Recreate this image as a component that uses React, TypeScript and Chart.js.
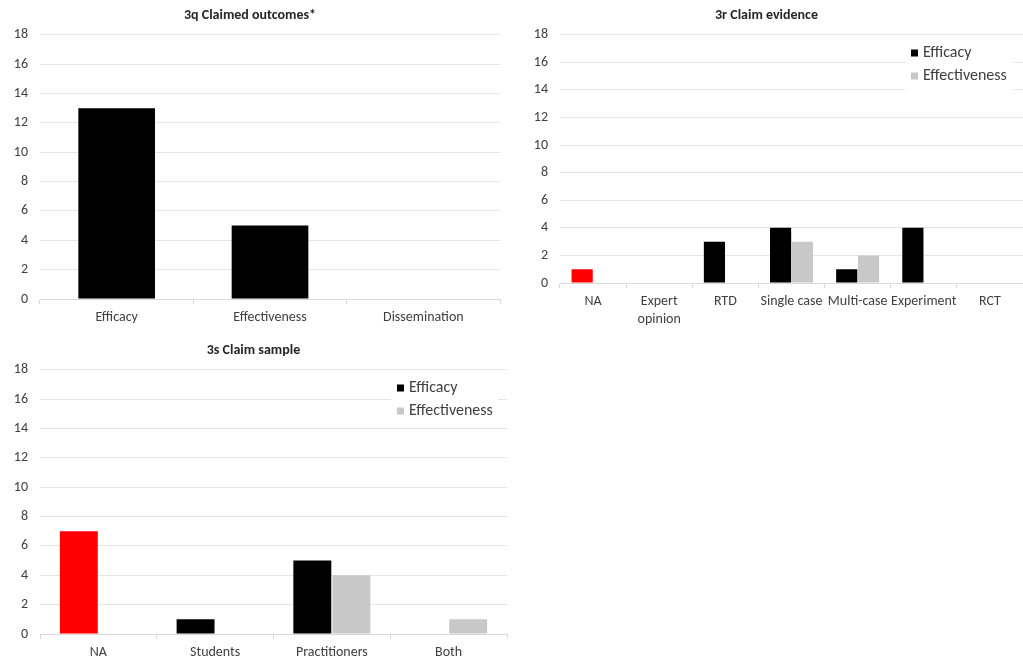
import React, { useEffect, useRef } from "react";
import { Chart, registerables } from "chart.js";

Chart.register(...registerables);

// ---- Data ----
const outcomeCategories = ["Efficacy", "Effectiveness", "Dissemination"];
const outcomeValues = [13, 5, 0];

const evidenceCategories = ["NA", "Expert opinion", "RTD", "Single case", "Multi-case", "Experiment", "RCT"];
const evidenceEfficacy = [1, 0, 3, 4, 1, 4, 0];
const evidenceEffectiveness = [0, 0, 0, 3, 2, 0, 0];

const sampleCategories = ["NA", "Students", "Practitioners", "Both"];
const sampleEfficacy = [7, 1, 5, 0];
const sampleEffectiveness = [0, 0, 4, 1];

const seriesNames = ["Efficacy", "Effectiveness"];
const yTicksMax = 18;
const yTicksStep = 2;

const FONT = "Carlito, Lato, 'Open Sans', sans-serif";
const BLACK = "#000000";
const GRAY = "#c8c8c8";
const RED = "#ff0000";

function splitLabel(s: string): string | string[] {
  return s === "Expert opinion" ? ["Expert", "opinion"] : s;
}

function legendPlugin(cfg: { boxLeft: number; boxRight: number; top: number; bottom: number; markerX: number; textX: number; rows: number[] }) {
  return {
    id: "customLegend",
    afterDraw(chart: any) {
      const ctx = chart.ctx;
      ctx.save();
      ctx.fillStyle = "#ffffff";
      ctx.fillRect(cfg.boxLeft, cfg.top, cfg.boxRight - cfg.boxLeft, cfg.bottom - cfg.top);
      const colors = [BLACK, GRAY];
      seriesNames.forEach((name, i) => {
        const y = cfg.rows[i];
        ctx.fillStyle = colors[i];
        ctx.fillRect(cfg.markerX, y - 3.5, 7, 7);
        ctx.fillStyle = "#404040";
        ctx.font = `16px ${FONT}`;
        ctx.textBaseline = "middle";
        ctx.textAlign = "left";
        ctx.fillText(name, cfg.textX, y);
      });
      ctx.restore();
    },
  };
}

function baseOptions(title: string, yWidth: number, xHeight: number, rightPad: number, catPct: number, barPct: number): any {
  return {
    responsive: true,
    maintainAspectRatio: false,
    animation: false,
    datasets: { bar: { categoryPercentage: catPct, barPercentage: barPct } },
    layout: { padding: { left: 0, right: rightPad, top: 0, bottom: 0 } },
    plugins: {
      legend: { display: false },
      tooltip: { enabled: false },
      title: {
        display: true,
        text: title,
        color: "#262626",
        font: { family: FONT, size: 14, weight: "bold" },
        padding: { top: 7, bottom: 11 },
      },
    },
    scales: {
      x: {
        grid: { display: true, drawOnChartArea: false, offset: true, tickLength: 5, color: "#d9d9d9" },
        border: { display: true, color: "#d9d9d9" },
        ticks: { color: "#404040", font: { family: FONT, size: 14, lineHeight: 1.3 }, padding: 4, maxRotation: 0, autoSkip: false },
        afterFit: (s: any) => { s.height = xHeight; },
      },
      y: {
        min: 0,
        max: yTicksMax,
        ticks: { stepSize: yTicksStep, color: "#404040", font: { family: FONT, size: 14 }, padding: 12 },
        grid: { color: "#e6e6e6", drawTicks: false },
        border: { display: false },
        afterFit: (s: any) => { s.width = yWidth; },
      },
    },
  };
}

function useChart(ref: React.RefObject<HTMLCanvasElement | null>, make: () => any) {
  useEffect(() => {
    if (!ref.current) return;
    const chart = new Chart(ref.current, make());
    return () => chart.destroy();
  }, []);
}

export default function App() {
  const r1 = useRef<HTMLCanvasElement>(null);
  const r2 = useRef<HTMLCanvasElement>(null);
  const r3 = useRef<HTMLCanvasElement>(null);

  useChart(r1, () => ({
    type: "bar",
    data: {
      labels: outcomeCategories,
      datasets: [{ label: "Count", data: outcomeValues, backgroundColor: BLACK }],
    },
    options: baseOptions("3q Claimed outcomes*", 40, 31, 10, 0.5, 1),
  }));

  useChart(r2, () => ({
    type: "bar",
    data: {
      labels: evidenceCategories.map(splitLabel),
      datasets: [
        { label: seriesNames[0], data: evidenceEfficacy, backgroundColor: evidenceCategories.map((c) => (c === "NA" ? RED : BLACK)) },
        { label: seriesNames[1], data: evidenceEffectiveness, backgroundColor: GRAY },
      ],
    },
    options: baseOptions("3r Claim evidence", 50, 47, 0, 0.66, 0.97),
    plugins: [legendPlugin({ boxLeft: 395, boxRight: 503, top: 42, bottom: 91, markerX: 401, textX: 413, rows: [53, 76] })],
  }));

  useChart(r3, () => ({
    type: "bar",
    data: {
      labels: sampleCategories,
      datasets: [
        { label: seriesNames[0], data: sampleEfficacy, backgroundColor: sampleCategories.map((c) => (c === "NA" ? RED : BLACK)) },
        { label: seriesNames[1], data: sampleEffectiveness, backgroundColor: GRAY },
      ],
    },
    options: baseOptions("3s Claim sample", 40, 27, 3, 0.67, 0.97),
    plugins: [legendPlugin({ boxLeft: 391, boxRight: 498, top: 42, bottom: 91, markerX: 397, textX: 409, rows: [53, 76] })],
  }));

  return (
    <div style={{ position: "fixed", left: 0, top: 0, width: 1023, height: 661, background: "#ffffff" }}>
      <div style={{ position: "absolute", left: 0, top: 0, width: 510, height: 330 }}>
        <canvas ref={r1} />
      </div>
      <div style={{ position: "absolute", left: 510, top: 0, width: 513, height: 330 }}>
        <canvas ref={r2} />
      </div>
      <div style={{ position: "absolute", left: 0, top: 335, width: 510, height: 326 }}>
        <canvas ref={r3} />
      </div>
    </div>
  );
}
